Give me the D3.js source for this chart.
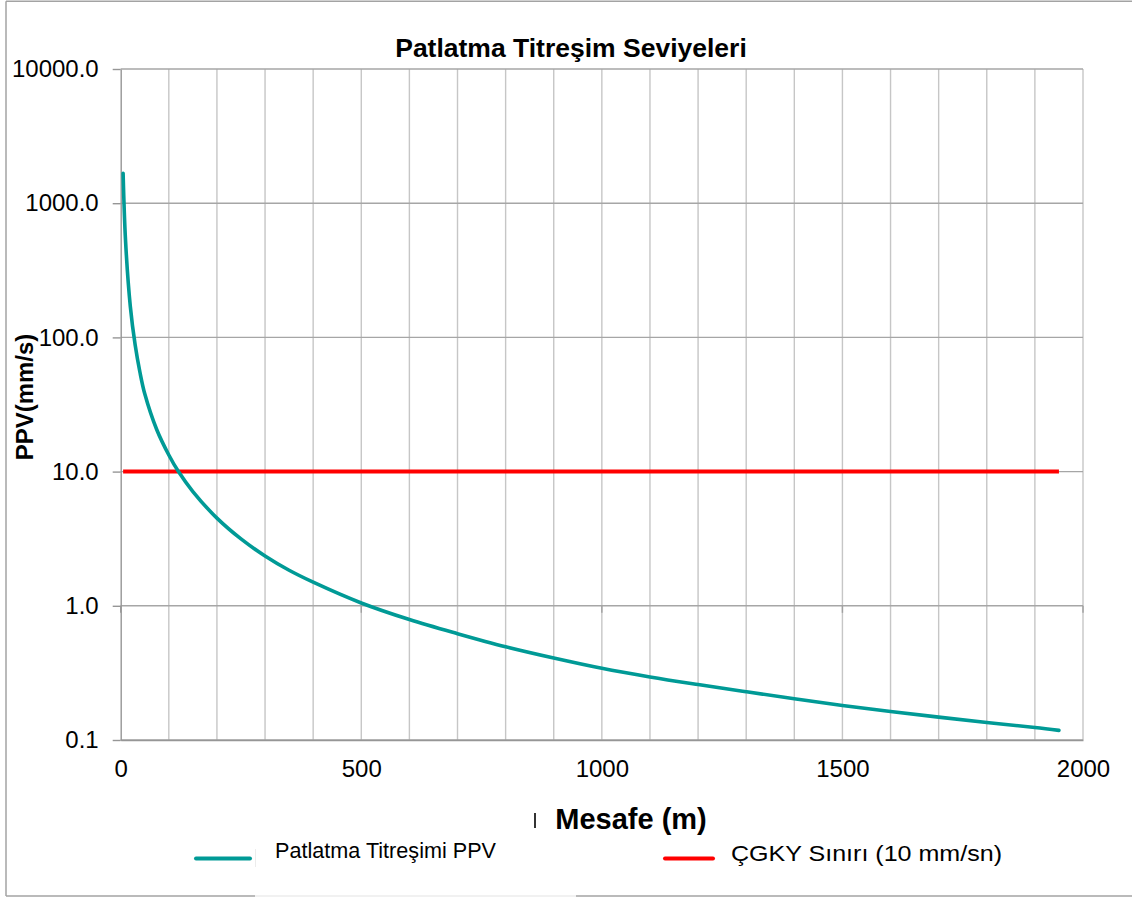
<!DOCTYPE html>
<html>
<head>
<meta charset="utf-8">
<script src="https://cdn.jsdelivr.net/npm/d3@7"></script>
<style>
  html, body { margin: 0; padding: 0; background: #fff; }
  svg { display: block; font-family: "Liberation Sans", Arial, sans-serif; }
</style>
</head>
<body>
<svg id="chart" width="1132" height="900"></svg>
<script>
// ---- data ----
const distances = [5, 10, 20, 30, 40, 50, 75, 100, 120, 150, 200, 250, 300, 350, 400, 500, 600, 700, 800, 900, 1000, 1100, 1200, 1300, 1400, 1500, 1600, 1700, 1800, 1900, 1950];
const ppvValues = [1670, 530, 170, 88, 55, 38, 20.5, 13.3, 10, 7.1, 4.5, 3.15, 2.35, 1.84, 1.5, 1.05, 0.79, 0.62, 0.495, 0.408, 0.342, 0.295, 0.259, 0.229, 0.203, 0.181, 0.163, 0.148, 0.135, 0.124, 0.118];
const limitDistances = [5, 1950];
const limitValues = [10, 10];
const yTickValues = [0.1, 1, 10, 100, 1000, 10000];
const xTickValues = [0, 500, 1000, 1500, 2000];
const xGridValues = d3.range(100, 2001, 100);
const seriesNames = ["Patlatma Titreşimi PPV", "ÇGKY Sınırı (10 mm/sn)"];
const chartTitle = "Patlatma Titreşim Seviyeleri";
const xTitle = "Mesafe (m)";
const yTitle = "PPV(mm/s)";

(function () {
// ---- layout ----
const svg = d3.select("#chart");
const pLeft = 120.7, pRight = 1083, pTop = 69, pBottom = 740;
const x = d3.scaleLinear().domain([0, 2000]).range([pLeft, pRight]);
const y = d3.scaleLog().domain([0.1, 10000]).range([pBottom, pTop]);

// outer frame (open on the right, partly hidden at the bottom by the legend box)
const frame = svg.append("g").attr("stroke", "#a3a3a3").attr("stroke-width", 1.5).attr("fill", "none");
frame.append("line").attr("x1", 6).attr("x2", 1132).attr("y1", 1.2).attr("y2", 1.2);
frame.append("line").attr("x1", 6).attr("x2", 6).attr("y1", 1.2).attr("y2", 896);
frame.append("line").attr("x1", 6).attr("x2", 255).attr("y1", 896).attr("y2", 896);
frame.append("line").attr("x1", 576).attr("x2", 1132).attr("y1", 896).attr("y2", 896);
svg.append("line").attr("x1", 255).attr("x2", 576).attr("y1", 896).attr("y2", 896)
  .attr("stroke", "#ececec").attr("stroke-width", 1.5);
svg.append("line").attr("x1", 255.5).attr("x2", 255.5).attr("y1", 849).attr("y2", 867)
  .attr("stroke", "#ececec").attr("stroke-width", 1);

// vertical grid
svg.append("g").selectAll("line").data(xGridValues).join("line")
  .attr("x1", d => x(d)).attr("x2", d => x(d))
  .attr("y1", pTop).attr("y2", pBottom)
  .attr("stroke", "#c6c6c6").attr("stroke-width", 1.4);

// horizontal grid
svg.append("g").selectAll("line").data(yTickValues).join("line")
  .attr("x1", pLeft).attr("x2", pRight)
  .attr("y1", d => y(d)).attr("y2", d => y(d))
  .attr("stroke", "#a6a6a6").attr("stroke-width", 1.4);

// small tick marks where the category axis crosses (at 1.0)
svg.append("g").selectAll("line").data(xTickValues).join("line")
  .attr("x1", d => x(d)).attr("x2", d => x(d))
  .attr("y1", y(1)).attr("y2", y(1) + 7)
  .attr("stroke", "#a0a0a0").attr("stroke-width", 1.4);

// y axis
const yAxis = svg.append("g").attr("transform", `translate(${pLeft},0)`)
  .call(d3.axisLeft(y).tickValues(yTickValues).tickFormat(d3.format(".1f")).tickSize(8).tickSizeOuter(0).tickPadding(14));
yAxis.select(".domain").attr("stroke", "#969696").attr("stroke-width", 1.4);
yAxis.selectAll(".tick line").attr("stroke", "#969696").attr("stroke-width", 1.4);
yAxis.selectAll(".tick text").attr("font-size", 24).attr("fill", "#000")
  .attr("font-family", "Liberation Sans, Arial, sans-serif");

// x axis labels
const xAxis = svg.append("g").attr("transform", `translate(0,${pBottom})`)
  .call(d3.axisBottom(x).tickValues(xTickValues).tickFormat(d3.format("d")).tickSize(0).tickPadding(20));
xAxis.select(".domain").attr("stroke", "#969696").attr("stroke-width", 1.4);
xAxis.selectAll(".tick text").attr("font-size", 24).attr("fill", "#000")
  .attr("font-family", "Liberation Sans, Arial, sans-serif");

// series
const pts = distances.map((d, i) => [d, ppvValues[i]]);
const line = d3.line().x(d => x(d[0])).y(d => y(d[1])).curve(d3.curveCatmullRom.alpha(0.5));
const limitPts = limitDistances.map((d, i) => [d, limitValues[i]]);

svg.append("path").datum(limitPts).attr("d", d3.line().x(d => x(d[0])).y(d => y(d[1])))
  .attr("fill", "none").attr("stroke", "#ff0000").attr("stroke-width", 4);
svg.append("path").datum(pts).attr("d", line)
  .attr("fill", "none").attr("stroke", "#009a96").attr("stroke-width", 3.6)
  .attr("stroke-linecap", "round");

// titles
svg.append("text").attr("x", 571).attr("y", 57).attr("text-anchor", "middle")
  .attr("font-size", 26.5).attr("font-weight", "bold").text(chartTitle);
svg.append("text").attr("transform", "translate(33,397) rotate(-90)").attr("text-anchor", "middle")
  .attr("font-size", 24).attr("font-weight", "bold").text(yTitle);
svg.append("text").attr("x", 631).attr("y", 829).attr("text-anchor", "middle")
  .attr("font-size", 29).attr("font-weight", "bold").text(xTitle);
svg.append("line").attr("x1", 535).attr("x2", 535).attr("y1", 813).attr("y2", 828)
  .attr("stroke", "#000").attr("stroke-width", 1.6);

// legend
const legend = [
  { name: seriesNames[0], color: "#009a96", x1: 196, x2: 250, tx: 275, ty: 858, len: 221 },
  { name: seriesNames[1], color: "#ff0000", x1: 665, x2: 713, tx: 731, ty: 861, len: 271 }
];
const lg = svg.append("g").selectAll("g").data(legend).join("g");
lg.append("line").attr("x1", d => d.x1).attr("x2", d => d.x2).attr("y1", 858.5).attr("y2", 858.5)
  .attr("stroke", d => d.color).attr("stroke-width", 4).attr("stroke-linecap", "round");
lg.append("text").attr("x", d => d.tx).attr("y", d => d.ty)
  .attr("font-size", 21.5).attr("fill", "#000")
  .attr("textLength", d => d.len).attr("lengthAdjust", "spacingAndGlyphs")
  .text(d => d.name);
})();
</script>
</body>
</html>
